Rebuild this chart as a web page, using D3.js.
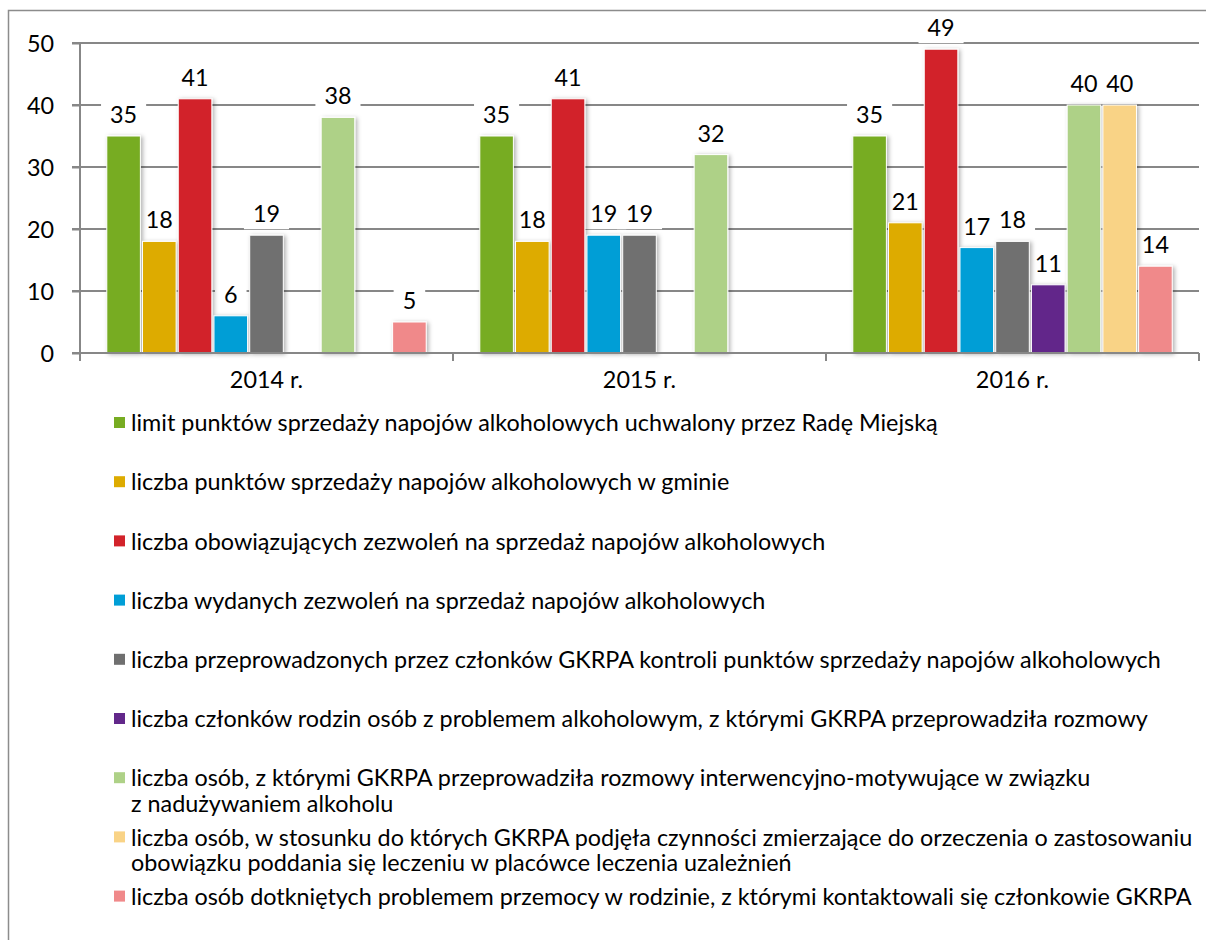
<!DOCTYPE html>
<html>
<head>
<meta charset="utf-8">
<script src="https://cdn.jsdelivr.net/npm/d3@7"></script>
<style>
  body { margin: 0; background: #fff; }
  svg text { font-family: Lato, "Open Sans", sans-serif; fill: #000; }
</style>
</head>
<body>
<svg id="chart" width="1206" height="940"></svg>
<script>
// ---- data ----
const categories = ["2014 r.", "2015 r.", "2016 r."];

const seriesNames = [
  ["limit punktów sprzedaży napojów alkoholowych uchwalony przez Radę Miejską"],
  ["liczba punktów sprzedaży napojów alkoholowych w gminie"],
  ["liczba obowiązujących zezwoleń na sprzedaż napojów alkoholowych"],
  ["liczba wydanych zezwoleń na sprzedaż napojów alkoholowych"],
  ["liczba przeprowadzonych przez członków GKRPA kontroli punktów sprzedaży napojów alkoholowych"],
  ["liczba członków rodzin osób z problemem alkoholowym, z którymi GKRPA przeprowadziła rozmowy"],
  ["liczba osób, z którymi GKRPA przeprowadziła rozmowy interwencyjno-motywujące w związku",
   "z nadużywaniem alkoholu"],
  ["liczba osób, w stosunku do których GKRPA podjęła czynności zmierzające do orzeczenia o zastosowaniu",
   "obowiązku poddania się leczeniu w placówce leczenia uzależnień"],
  ["liczba osób dotkniętych problemem przemocy w rodzinie, z którymi kontaktowali się członkowie GKRPA"]
];

const limitPunktow      = [35, 35, 35];
const punktySprzedazy   = [18, 18, 21];
const zezwoleniaObow    = [41, 41, 49];
const zezwoleniaWydane  = [6, 19, 17];
const kontrole          = [19, 19, 18];
const czlonkowieRodzin  = [null, null, 11];
const rozmowyInterw     = [38, 32, 40];
const orzeczenia        = [null, null, 40];
const przemoc           = [5, null, 14];

const seriesValues = [limitPunktow, punktySprzedazy, zezwoleniaObow, zezwoleniaWydane,
  kontrole, czlonkowieRodzin, rozmowyInterw, orzeczenia, przemoc];

const colors = ["#77ac22", "#ddab00", "#d2232a", "#009ed6", "#6f6f6f",
  "#62288a", "#aed187", "#f9d386", "#f0898a"];

const yTicks = [0, 10, 20, 30, 40, 50];

// ---- layout ----
const svg = d3.select("#chart");
const plotLeft = 80, plotRight = 1199, plotTop = 43, plotBottom = 353;
const gridColor = "#878787";

// fit font size: rows 1, 5 and 9 of the legend together are about 2898px wide in the picture
const probe = svg.append("text").attr("font-size", 20);
let probeW = 0;
[0, 4, 8].forEach(i => {
  probe.text(seriesNames[i][0]);
  probeW += probe.node().getComputedTextLength();
});
const fs = 20 * 2898 / probeW;
probe.remove();

// frame
svg.append("path")
  .attr("d", "M8.5,940 L8.5,10.5 L1206,10.5")
  .attr("fill", "none").attr("stroke", "#8c8c8c").attr("stroke-width", 1.5);

const x0 = d3.scaleBand().domain(categories).range([plotLeft, plotRight]);
const x1 = d3.scaleBand().domain(d3.range(seriesValues.length))
  .range([0, x0.bandwidth()]).paddingInner(0.06).paddingOuter(0.75);
const y = d3.scaleLinear().domain([0, 50]).range([plotBottom, plotTop]);

const defs = svg.append("defs");
defs.append("filter").attr("id", "shadow")
  .attr("x", "-20%").attr("y", "-20%").attr("width", "150%").attr("height", "150%")
  .append("feDropShadow")
  .attr("dx", 2).attr("dy", 1).attr("stdDeviation", 2)
  .attr("flood-color", "#000").attr("flood-opacity", 0.3);

// gridlines
svg.append("g").selectAll("line").data(yTicks.filter(d => d > 0)).join("line")
  .attr("x1", plotLeft - 8).attr("x2", plotRight)
  .attr("y1", d => y(d)).attr("y2", d => y(d))
  .attr("stroke", gridColor).attr("stroke-width", 2);

// y axis
const yAxis = svg.append("g")
  .attr("transform", `translate(${plotLeft},0)`)
  .call(d3.axisLeft(y).tickValues(yTicks).tickSize(8).tickPadding(18));
yAxis.select(".domain").attr("stroke", gridColor).attr("stroke-width", 2)
  .attr("d", `M0,${plotTop}V${plotBottom}`);
yAxis.selectAll(".tick line").attr("stroke", gridColor).attr("stroke-width", 2);
yAxis.selectAll(".tick text").attr("font-size", fs).attr("font-family", null)
  .attr("dy", "0.35em");

// flat list of bars
const bars = [];
seriesValues.forEach((vals, s) => {
  vals.forEach((v, c) => {
    if (v != null) bars.push({ s, c, v });
  });
});

// label background boxes sit under the bars (they only hide gridlines)
const boxG = svg.append("g");
const barG = svg.append("g");
const textG = svg.append("g");

barG.selectAll("rect").data(bars).join("rect")
  .attr("x", d => x0(categories[d.c]) + x1(d.s))
  .attr("y", d => y(d.v))
  .attr("width", x1.bandwidth())
  .attr("height", d => y(0) - y(d.v))
  .attr("fill", d => colors[d.s])
  .attr("stroke", "#fff").attr("stroke-width", 1)
  .attr("filter", "url(#shadow)");

const labels = textG.selectAll("text").data(bars).join("text")
  .attr("x", d => x0(categories[d.c]) + x1(d.s) + x1.bandwidth() / 2)
  .attr("y", d => y(d.v) - 13)
  .attr("text-anchor", "middle")
  .attr("font-size", fs)
  .text(d => d.v);

labels.each(function () {
  const b = this.getBBox();
  boxG.append("rect")
    .attr("x", b.x - 9).attr("y", b.y)
    .attr("width", b.width + 18).attr("height", b.height + 2)
    .attr("fill", "#fff");
});

// x axis
svg.append("line")
  .attr("x1", plotLeft - 8).attr("x2", plotRight)
  .attr("y1", plotBottom).attr("y2", plotBottom)
  .attr("stroke", gridColor).attr("stroke-width", 2);
const bounds = categories.map(c => x0(c)).concat([x0(categories[categories.length - 1]) + x0.bandwidth()]);
svg.append("g").selectAll("line").data(bounds).join("line")
  .attr("x1", d => d).attr("x2", d => d)
  .attr("y1", plotBottom).attr("y2", plotBottom + 8)
  .attr("stroke", gridColor).attr("stroke-width", 2);
svg.append("g").selectAll("text").data(categories).join("text")
  .attr("x", d => x0(d) + x0.bandwidth() / 2)
  .attr("y", 388)
  .attr("text-anchor", "middle")
  .attr("font-size", fs)
  .text(d => d);

// legend
const legend = svg.append("g").selectAll("g").data(seriesNames).join("g")
  .attr("transform", (d, i) => `translate(0,${423 + i * 59.2})`);
legend.append("rect")
  .attr("x", 114).attr("y", -6).attr("width", 11).attr("height", 11)
  .attr("fill", (d, i) => colors[i]);
legend.each(function (lines) {
  d3.select(this).selectAll("text").data(lines).join("text")
    .attr("x", 131)
    .attr("y", (d, j) => j * 25.5)
    .attr("dy", "0.35em")
    .attr("font-size", fs)
    .text(d => d);
});
</script>
</body>
</html>
